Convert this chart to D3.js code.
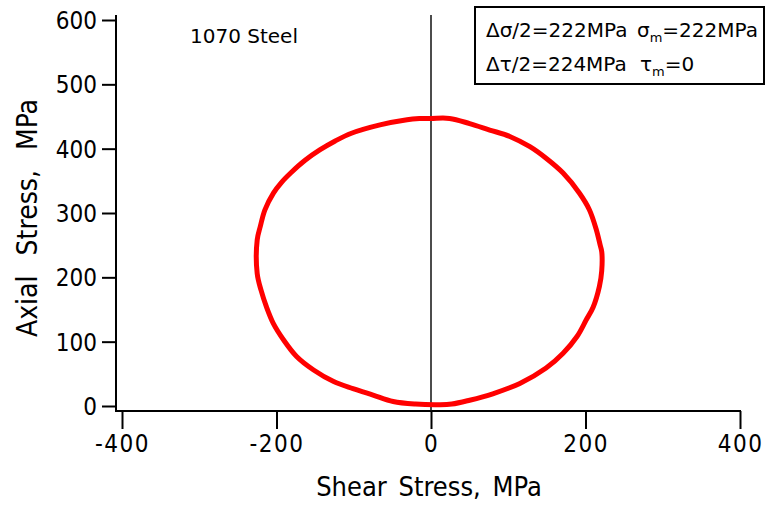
<!DOCTYPE html>
<html>
<head>
<meta charset="utf-8">
<script src="https://cdn.jsdelivr.net/npm/d3@7"></script>
<style>
  html, body { margin: 0; padding: 0; background: #fff; }
  svg { display: block; }
  text { font-family: "DejaVu Sans Condensed", "DejaVu Sans", sans-serif; fill: #000; }
  .box text, .note { font-family: "DejaVu Sans", sans-serif; }
</style>
</head>
<body>
<svg id="chart" width="765" height="505"></svg>
<script>
// Shear / axial stress path of one loading cycle, 1070 steel (MPa), clockwise from the top
const shearStress = [
  -15, 0, 24, 50, 76, 102, 128, 149, 171, 192, 205, 214, 219, 221, 221, 218,
  210, 201, 189, 171, 149, 115, 80, 50, 27, 10, -20,
  -49, -75, -101, -126, -152, -174, -191, -204, -213, -220, -225, -225,
  -221, -215, -204, -194, -181, -163, -144, -124, -103, -66, -31, -15
];
const axialStress = [
  447, 447, 447, 439, 429, 419, 403, 385, 362, 331, 305, 274, 250, 240, 210, 186,
  154, 134, 108, 82, 59, 35, 19, 9, 3, 2, 3,
  7, 17, 27, 38, 56, 77, 103, 128, 154, 180, 206, 258,
  279, 305, 331, 347, 363, 382, 398, 412, 424, 437, 445, 447
];

const xTicks = [-400, -200, 0, 200, 400];
const yTicks = [0, 100, 200, 300, 400, 500, 600];

const svg = d3.select("#chart");

const x = d3.scaleLinear().domain([-400, 400]).range([122, 740]);
const y = d3.scaleLinear().domain([0, 600]).range([406, 20]);

const axisLeftX = 116;
const axisBottomY = 411;
const axisTop = 15;

// y axis
const yAxis = svg.append("g")
  .attr("transform", `translate(${axisLeftX},0)`)
  .call(d3.axisLeft(y).tickValues(yTicks).tickFormat(d => String(d))
    .tickSize(14).tickSizeOuter(0).tickPadding(5));
yAxis.select(".domain").remove();
yAxis.selectAll(".tick line").attr("stroke", "#000").attr("stroke-width", 2);
yAxis.selectAll(".tick text").style("font-size", "24px").attr("dy", "0.36em");

// x axis
const xAxis = svg.append("g")
  .attr("transform", `translate(0,${axisBottomY})`)
  .call(d3.axisBottom(x).tickValues(xTicks).tickFormat(d => String(d))
    .tickSize(18).tickSizeOuter(0).tickPadding(6));
xAxis.select(".domain").remove();
xAxis.selectAll(".tick line").attr("stroke", "#000").attr("stroke-width", 2);
xAxis.selectAll(".tick text").style("font-size", "24px").style("letter-spacing", "1.5px");

// axis lines
svg.append("line")
  .attr("x1", axisLeftX).attr("x2", axisLeftX)
  .attr("y1", axisTop).attr("y2", axisBottomY + 1)
  .attr("stroke", "#000").attr("stroke-width", 2);
svg.append("line")
  .attr("x1", axisLeftX - 1).attr("x2", x(400) + 1)
  .attr("y1", axisBottomY).attr("y2", axisBottomY)
  .attr("stroke", "#000").attr("stroke-width", 2);

// zero shear line
svg.append("line")
  .attr("x1", x(0)).attr("x2", x(0))
  .attr("y1", axisTop).attr("y2", axisBottomY)
  .attr("stroke", "#111").attr("stroke-width", 1.5);

// loading path
const pts = shearStress.map((t, i) => [t, axialStress[i]]);
svg.append("path")
  .datum(pts)
  .attr("fill", "none")
  .attr("stroke", "#ff0000")
  .attr("stroke-width", 5)
  .attr("stroke-linejoin", "round")
  .attr("stroke-linecap", "round")
  .attr("d", d3.line().curve(d3.curveCatmullRom.alpha(0.5))
    .x(d => x(d[0])).y(d => y(d[1])));

// axis titles
svg.append("text")
  .attr("x", 429).attr("y", 496)
  .attr("text-anchor", "middle")
  .style("font-size", "27px")
  .style("word-spacing", "4px")
  .text("Shear Stress, MPa");
svg.append("text")
  .attr("transform", "translate(37,218) rotate(-90)")
  .attr("text-anchor", "middle")
  .style("font-size", "28px")
  .style("word-spacing", "12px")
  .text("Axial Stress, MPa");

// material label
svg.append("text")
  .attr("class", "note")
  .attr("x", 190).attr("y", 43)
  .style("font-size", "20px")
  .text("1070 Steel");

// loading amplitudes box
const box = svg.append("g").attr("class", "box");
box.append("rect")
  .attr("x", 475).attr("y", 7).attr("width", 289).attr("height", 77)
  .attr("fill", "#fff").attr("stroke", "#000").attr("stroke-width", 2);

const l1 = box.append("text").attr("x", 486).attr("y", 37).style("font-size", "20px");
l1.append("tspan").text("\u0394\u03c3/2=222MPa");
l1.append("tspan").attr("x", 637).text("\u03c3");
l1.append("tspan").attr("dy", 5).style("font-size", "13px").text("m");
l1.append("tspan").attr("dy", -5).text("=222MPa");

const l2 = box.append("text").attr("x", 486).attr("y", 71).style("font-size", "20px");
l2.append("tspan").text("\u0394\u03c4/2=224MPa");
l2.append("tspan").attr("x", 640).text("\u03c4");
l2.append("tspan").attr("dy", 5).style("font-size", "13px").text("m");
l2.append("tspan").attr("dy", -5).text("=0");
</script>
</body>
</html>
